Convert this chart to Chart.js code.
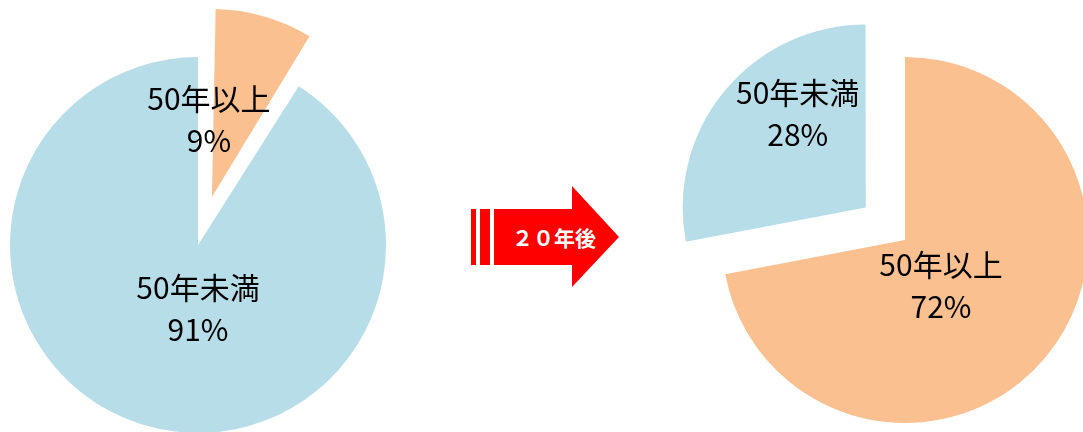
<!DOCTYPE html>
<html>
<head>
<meta charset="utf-8">
<script src="https://cdn.jsdelivr.net/npm/chart.js@4"></script>
<style>
html, body { margin: 0; padding: 0; background: #fff; overflow: hidden; width: 1083px; height: 432px; }
#left { position: absolute; left: 0; top: 0; }
#right { position: absolute; left: 675px; top: 0; }
#arrow { position: absolute; left: 460px; top: 180px; }
</style>
</head>
<body>
<canvas id="left" width="396" height="490"></canvas>
<canvas id="right" width="460" height="480"></canvas>
<svg id="arrow" width="170" height="110">
  <rect x="11" y="29" width="5" height="56" fill="#ff0000"/>
  <rect x="20" y="29" width="10" height="56" fill="#ff0000"/>
  <polygon points="34,29 112,29 112,6 159,57 112,107 112,85 34,85" fill="#ff0000"/>
  <text x="94" y="66" fill="#ffffff" font-size="21" font-weight="bold" text-anchor="middle" font-family="'Noto Sans CJK JP'">２０年後</text>
</svg>
<script>
// categories and values
var nowLabels = ['50年以上', '50年未満'];
var nowValues = [9, 91];
var laterLabels = ['50年以上', '50年未満'];
var laterValues = [72, 28];

var colorOver = '#FAC090';
var colorUnder = '#B7DDE8';

// Chart.js moves an arc by offset/4 and also grows its radius; undo the growth
var keepRadius = {
  id: 'keepRadius',
  beforeDatasetsDraw: function(chart) {
    var meta = chart.getDatasetMeta(0);
    var ds = chart.data.datasets[0];
    meta.data.forEach(function(arc, i) {
      var off = (ds.offset[i] || 0) / 4;
      var circ = arc.endAngle - arc.startAngle;
      var fix = 1 - Math.sin(Math.min(Math.PI, circ));
      arc.outerRadius = chart.options.radius - off * fix;
    });
  }
};

// draws "name / value%" at each slice, shifted from the slice's vertex
var sliceLabels = {
  id: 'sliceLabels',
  afterDatasetsDraw: function(chart, args, opts) {
    var ctx = chart.ctx;
    var ds = chart.data.datasets[0];
    var meta = chart.getDatasetMeta(0);
    ctx.save();
    ctx.font = '30px "Noto Sans CJK JP"';
    ctx.fillStyle = '#000';
    ctx.textAlign = 'center';
    ctx.textBaseline = 'middle';
    meta.data.forEach(function(arc, i) {
      var mid = (arc.startAngle + arc.endAngle) / 2;
      var off = (ds.offset[i] || 0) / 4;
      var vx = arc.x + Math.cos(mid) * off;
      var vy = arc.y + Math.sin(mid) * off;
      var s = opts.shift[i];
      ctx.fillText(chart.data.labels[i], vx + s[0], vy + s[1] - 21);
      ctx.fillText(ds.data[i] + '%', vx + s[0], vy + s[1] + 21);
    });
    ctx.restore();
  }
};

function createPie(id, labels, values, colors, offsets, radius, shift) {
  return new Chart(document.getElementById(id), {
    type: 'pie',
    data: {
      labels: labels,
      datasets: [{
        data: values,
        backgroundColor: colors,
        borderWidth: 0,
        offset: offsets
      }]
    },
    options: {
      responsive: false,
      animation: false,
      radius: radius,
      layout: { padding: 0 },
      plugins: {
        legend: { display: false },
        tooltip: { enabled: false },
        sliceLabels: { shift: shift }
      }
    },
    plugins: [keepRadius, sliceLabels]
  });
}

createPie('left', nowLabels, nowValues, [colorOver, colorUnder], [200, 0], 188, [[-3, -77], [0, 64]]);
createPie('right', laterLabels, laterValues, [colorOver, colorUnder], [0, 204], 183, [[36, 46], [-68, -94]]);
</script>
</body>
</html>
